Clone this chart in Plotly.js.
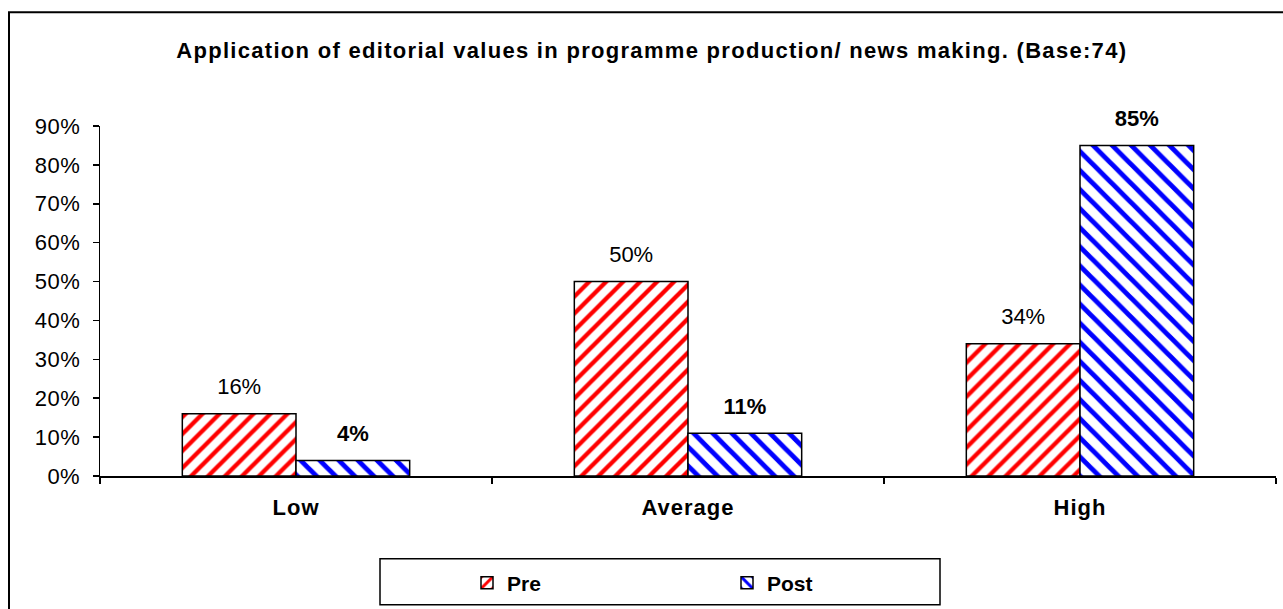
<!DOCTYPE html>
<html>
<head>
<meta charset="utf-8">
<script src="https://cdn.plot.ly/plotly-3.0.1.min.js"></script>
<style>html,body{margin:0;padding:0;background:#fff;}#chart{width:1283px;height:609px;}
#chart .gtitle{letter-spacing:1.3px;}
#chart .xtick text{letter-spacing:1px;}
#chart .ytick text{letter-spacing:0.4px;}</style>
</head>
<body>
<div id="chart"></div>
<script>
const categories = ["Low", "Average", "High"];
const preValues = [0.16, 0.50, 0.34];
const postValues = [0.04, 0.11, 0.85];
const seriesNames = ["Pre", "Post"];
const titleText = "Application of editorial values in programme production/ news making. (Base:74)";

const FONT = "Liberation Sans, Arial, sans-serif";
const W = 1283, H = 609;
const L = 100, R = 7, T = 126, B = 132;
const pw = W - L - R, ph = H - T - B;
const px = v => (v - L) / pw;
const py = v => (H - B - v) / ph;

const traces = [
  {
    type: "bar", name: seriesNames[0], x: categories, y: preValues,
    marker: {color: "#ffffff", line: {color: "#000000", width: 1.5},
      pattern: {shape: "/", fgcolor: "#ff0000", bgcolor: "#ffffff", size: 12, solidity: 0.36}},
    texttemplate: "<span style='font-size:22px'>%{y:.0%}</span><br> ",
    textposition: "outside", cliponaxis: false,
    textfont: {family: FONT, size: 11, color: "#000"}
  },
  {
    type: "bar", name: seriesNames[1], x: categories, y: postValues,
    marker: {color: "#ffffff", line: {color: "#000000", width: 1.5},
      pattern: {shape: "\\", fgcolor: "#0000ff", bgcolor: "#ffffff", size: 13.5, solidity: 0.36}},
    texttemplate: "<span style='font-size:22px'><b>%{y:.0%}</b></span><br> ",
    textposition: "outside", cliponaxis: false,
    textfont: {family: FONT, size: 11, color: "#000"}
  }
];

const layout = {
  width: W, height: H,
  margin: {l: L, r: R, t: T, b: B, pad: 0},
  paper_bgcolor: "#fff", plot_bgcolor: "#fff",
  font: {family: FONT, color: "#000"},
  title: {text: "<b>" + titleText + "</b>", font: {family: FONT, size: 22, color: "#000"},
    x: 0.508, xref: "container", xanchor: "center", y: 1 - 50 / H, yref: "container", yanchor: "middle"},
  barmode: "group", bargap: 0.42, bargroupgap: 0,
  xaxis: {
    showline: true, linecolor: "#000", linewidth: 1.5, ticks: "outside", ticklen: 6,
    tickcolor: "#000", tickwidth: 1.5, tickson: "boundaries", showgrid: false,
    tickfont: {family: FONT, size: 22, color: "#000", weight: "bold"}, ticklabelstandoff: 11
  },
  yaxis: {
    range: [0, 0.9], dtick: 0.1, tickformat: ".0%", showline: true, linecolor: "#000",
    linewidth: 1.5, ticks: "outside", ticklen: 6, tickcolor: "#000", tickwidth: 1.5,
    showgrid: false, zeroline: false, tickfont: {family: FONT, size: 22, color: "#000"},
    ticklabelstandoff: 8
  },
  showlegend: true,
  legend: {orientation: "h", x: px(467), xanchor: "left", y: py(583), yanchor: "middle",
    entrywidth: 215, borderwidth: 0, bgcolor: "rgba(0,0,0,0)",
    font: {family: FONT, size: 21, color: "#000", weight: "bold"}},
  shapes: [
    {type: "rect", xref: "paper", yref: "paper", x0: px(380), x1: px(940), y0: py(560), y1: py(606),
      line: {color: "#000", width: 1.5}, fillcolor: "rgba(0,0,0,0)", layer: "below"},
    {type: "rect", xref: "paper", yref: "paper", x0: px(9), x1: px(1300), y0: py(12), y1: py(640),
      line: {color: "#000", width: 2}, fillcolor: "rgba(0,0,0,0)", layer: "below"}
  ]
};

Plotly.newPlot("chart", traces, layout, {displayModeBar: false, staticPlot: true});
</script>
</body>
</html>
